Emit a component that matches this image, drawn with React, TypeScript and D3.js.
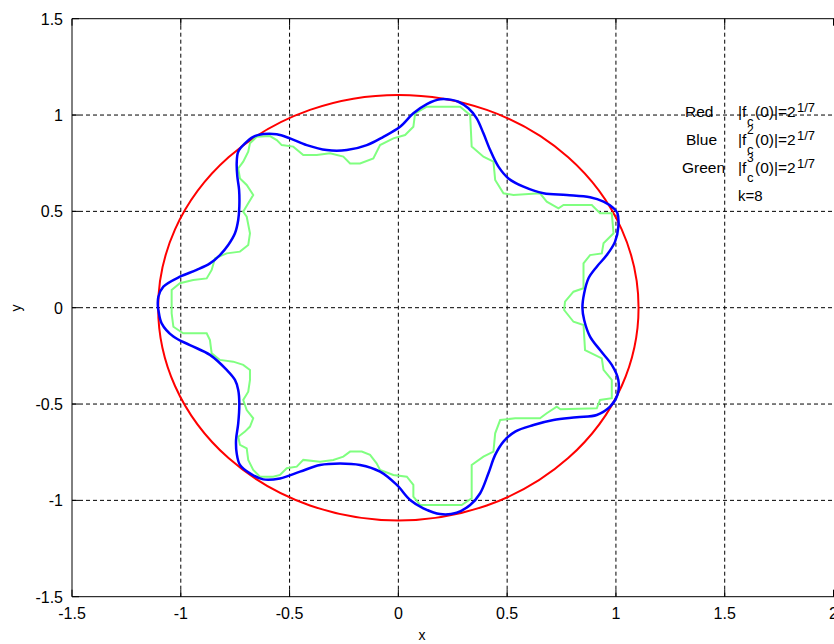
import React from "react";
import * as d3 from "d3";

// axis ticks
const xTicks = [-1.5, -1, -0.5, 0, 0.5, 1, 1.5, 2];
const yTicks = [-1.5, -1, -0.5, 0, 0.5, 1, 1.5];
const xTickLabels = ["-1.5", "-1", "-0.5", "0", "0.5", "1", "1.5", "2"];
const yTickLabels = ["-1.5", "-1", "-0.5", "0", "0.5", "1", "1.5"];

// red: |f_c(0)| = 2^(1/7) -> circle radius
const redRadius = 1.104;

// blue: |f_c^2(0)| = 2^(1/7)
const bluePoints: [number, number][] = [
  [-1.105, 0.0], [-1.103, 0.057], [-1.08, 0.109], [-1.004, 0.161], [-0.927, 0.196],
  [-0.866, 0.23], [-0.82, 0.273], [-0.782, 0.325], [-0.751, 0.386], [-0.736, 0.455],
  [-0.731, 0.524], [-0.732, 0.611], [-0.74, 0.68], [-0.743, 0.749], [-0.736, 0.81],
  [-0.705, 0.853], [-0.667, 0.887], [-0.621, 0.901], [-0.559, 0.9], [-0.498, 0.879],
  [-0.421, 0.844], [-0.329, 0.818], [-0.237, 0.818], [-0.145, 0.844], [-0.069, 0.887],
  [0.008, 0.939], [0.069, 1.009], [0.131, 1.057], [0.192, 1.082], [0.24, 1.08],
  [0.276, 1.069], [0.322, 1.035], [0.36, 0.983], [0.391, 0.905], [0.422, 0.818],
  [0.46, 0.732], [0.506, 0.671], [0.575, 0.628], [0.667, 0.594], [0.774, 0.585],
  [0.881, 0.573], [0.943, 0.55], [0.989, 0.516], [1.007, 0.49], [1.011, 0.42],
  [0.996, 0.343], [0.958, 0.273], [0.912, 0.213], [0.874, 0.153], [0.854, 0.075],
  [0.846, 0.0], [0.854, -0.064], [0.881, -0.15], [0.927, -0.22], [0.981, -0.297],
  [1.011, -0.375], [1.007, -0.453], [0.973, -0.514], [0.912, -0.557], [0.82, -0.569],
  [0.713, -0.583], [0.621, -0.609], [0.537, -0.643], [0.483, -0.695], [0.445, -0.764],
  [0.414, -0.859], [0.376, -0.963], [0.33, -1.024], [0.268, -1.064], [0.192, -1.071],
  [0.115, -1.041], [0.054, -0.998], [-0.007, -0.92], [-0.084, -0.851], [-0.176, -0.816],
  [-0.268, -0.808], [-0.36, -0.816], [-0.452, -0.851], [-0.544, -0.886], [-0.621, -0.891],
  [-0.682, -0.86], [-0.728, -0.816], [-0.743, -0.756], [-0.746, -0.687], [-0.736, -0.6],
  [-0.731, -0.496], [-0.736, -0.427], [-0.751, -0.375], [-0.789, -0.323], [-0.866, -0.245],
  [-0.958, -0.194], [-1.034, -0.15], [-1.088, -0.081], [-1.103, -0.012],
];

// green: |f_c^3(0)| = 2^(1/7), jagged contour
const greenPoints: [number, number][] = [
  [-1.042, 0.0], [-1.042, 0.092], [-1.004, 0.127], [-0.943, 0.144], [-0.881, 0.152],
  [-0.858, 0.196], [-0.843, 0.256], [-0.789, 0.282], [-0.728, 0.291], [-0.69, 0.325],
  [-0.682, 0.386], [-0.697, 0.472], [-0.713, 0.498], [-0.69, 0.542], [-0.667, 0.585],
  [-0.697, 0.637], [-0.728, 0.671], [-0.736, 0.723], [-0.713, 0.758], [-0.69, 0.81],
  [-0.682, 0.853], [-0.651, 0.887], [-0.59, 0.891], [-0.559, 0.87], [-0.536, 0.844],
  [-0.483, 0.836], [-0.437, 0.792], [-0.375, 0.792], [-0.314, 0.801], [-0.253, 0.784],
  [-0.222, 0.749], [-0.176, 0.749], [-0.115, 0.775], [-0.084, 0.844], [-0.023, 0.879],
  [0.031, 0.896], [0.069, 0.939], [0.077, 1.009], [0.131, 1.043], [0.284, 1.043],
  [0.33, 1.0], [0.337, 0.836], [0.391, 0.784], [0.437, 0.758], [0.445, 0.663],
  [0.483, 0.594], [0.529, 0.585], [0.651, 0.594], [0.682, 0.55], [0.736, 0.516],
  [0.759, 0.533], [0.889, 0.533], [0.927, 0.49], [0.981, 0.49], [0.989, 0.386],
  [0.943, 0.334], [0.935, 0.282], [0.881, 0.273], [0.851, 0.23], [0.851, 0.101],
  [0.805, 0.083], [0.766, 0.031], [0.762, -0.012], [0.805, -0.073], [0.851, -0.09],
  [0.858, -0.22], [0.935, -0.263], [0.943, -0.323], [0.981, -0.375], [0.981, -0.47],
  [0.927, -0.479], [0.912, -0.522], [0.745, -0.527], [0.728, -0.514], [0.682, -0.548],
  [0.651, -0.574], [0.537, -0.574], [0.468, -0.583], [0.445, -0.652], [0.437, -0.747],
  [0.391, -0.773], [0.337, -0.816], [0.337, -0.989], [0.291, -1.024], [0.1, -1.024],
  [0.069, -0.981], [0.069, -0.92], [0.039, -0.877], [-0.023, -0.868], [-0.084, -0.842],
  [-0.1, -0.808], [-0.13, -0.764], [-0.168, -0.747], [-0.222, -0.747], [-0.253, -0.773],
  [-0.299, -0.79], [-0.36, -0.799], [-0.437, -0.79], [-0.467, -0.825], [-0.513, -0.833],
  [-0.544, -0.868], [-0.575, -0.877], [-0.636, -0.877], [-0.667, -0.842], [-0.69, -0.79],
  [-0.697, -0.73], [-0.728, -0.712], [-0.736, -0.67], [-0.705, -0.643], [-0.682, -0.617],
  [-0.667, -0.574], [-0.697, -0.531], [-0.713, -0.479], [-0.69, -0.436], [-0.682, -0.375],
  [-0.682, -0.323], [-0.713, -0.297], [-0.759, -0.28], [-0.82, -0.271], [-0.858, -0.237],
  [-0.866, -0.168], [-0.881, -0.133], [-0.989, -0.133], [-1.034, -0.099], [-1.042, -0.029],
];

const legendNames = ["Red", "Blue", "Green"];
const legendPowers = ["", "2", "3"];

const W = 834;
const H = 644;
const left = 72;
const right = 833.5;
const top = 18.7;
const bottom = 596.7;
const font = "'Liberation Sans', Arial, Helvetica, sans-serif";

export default function App() {
  const x = d3.scaleLinear().domain([-1.5, 2]).range([left, right]);
  const y = d3.scaleLinear().domain([-1.5, 1.5]).range([bottom, top]);

  const line = d3
    .line<[number, number]>()
    .x((d) => x(d[0]))
    .y((d) => y(d[1]));

  const bluePath = line.curve(d3.curveCatmullRomClosed)(bluePoints) || "";
  const greenPath = line.curve(d3.curveLinearClosed)(greenPoints) || "";

  const rowY = [117, 145, 173];
  const nameX = [685, 686, 682];

  return (
    <svg
      width={W}
      height={H}
      style={{ position: "absolute", left: 0, top: 0, background: "#fff" }}
      fontFamily={font}
    >
      <rect x={0} y={0} width={W} height={H} fill="#fff" />
      {/* grid */}
      {xTicks
        .filter((t) => t > -1.5 && t < 2)
        .map((t) => (
          <line key={"gx" + t} x1={x(t)} x2={x(t)} y1={top} y2={bottom}
            stroke="#000" strokeWidth={1} strokeDasharray="4,3" />
        ))}
      {yTicks
        .filter((t) => t > -1.5 && t < 1.5)
        .map((t) => (
          <line key={"gy" + t} x1={left} x2={right} y1={y(t)} y2={y(t)}
            stroke="#000" strokeWidth={1} strokeDasharray="4,3" />
        ))}

      {/* curves */}
      <ellipse cx={x(0)} cy={y(0)} rx={x(redRadius) - x(0)} ry={y(0) - y(redRadius)}
        fill="none" stroke="#ff0000" strokeWidth={2} />
      <path d={greenPath} fill="none" stroke="#80ff80" strokeWidth={2} />
      <path d={bluePath} fill="none" stroke="#0000ff" strokeWidth={2.5} />

      {/* axes box */}
      <line x1={left} x2={left} y1={top} y2={bottom} stroke="#000" />
      <line x1={left} x2={W} y1={bottom} y2={bottom} stroke="#000" />
      <line x1={left} x2={W} y1={top} y2={top} stroke="#000" />
      {xTicks.map((t) => (
        <g key={"tx" + t}>
          <line x1={x(t)} x2={x(t)} y1={bottom} y2={bottom - 7} stroke="#000" />
          <line x1={x(t)} x2={x(t)} y1={top} y2={top + 7} stroke="#000" />
        </g>
      ))}
      {yTicks.map((t) => (
        <line key={"ty" + t} x1={left} x2={left + 7} y1={y(t)} y2={y(t)} stroke="#000" />
      ))}

      {/* tick labels */}
      {xTicks.map((t, i) => (
        <text key={"lx" + t} x={x(t)} y={619} textAnchor="middle" fontSize={16} fill="#000">
          {xTickLabels[i]}
        </text>
      ))}
      {yTicks.map((t, i) => (
        <text key={"ly" + t} x={63} y={y(t) + 6} textAnchor="end" fontSize={16} fill="#000">
          {yTickLabels[i]}
        </text>
      ))}

      {/* axis labels */}
      <text x={422} y={640} textAnchor="middle" fontSize={14} fill="#000">x</text>
      <text transform="translate(21,308) rotate(-90)" textAnchor="middle" fontSize={14} fill="#000">y</text>

      {/* annotation */}
      {legendNames.map((name, i) => (
        <g key={name} fontSize={15.5} fill="#000">
          <text x={nameX[i]} y={rowY[i]}>{name}</text>
          <text x={738} y={rowY[i]}>|f</text>
          {legendPowers[i] && (
            <text x={747} y={rowY[i] - 11} fontSize={12}>{legendPowers[i]}</text>
          )}
          <text x={747} y={rowY[i] + 9} fontSize={13}>c</text>
          <text x={755} y={rowY[i]}>(0)|=2</text>
          <text x={797} y={rowY[i] - 5} fontSize={13}>1/7</text>
        </g>
      ))}
      <text x={738} y={201} fontSize={15} fill="#000">k=8</text>
    </svg>
  );
}
